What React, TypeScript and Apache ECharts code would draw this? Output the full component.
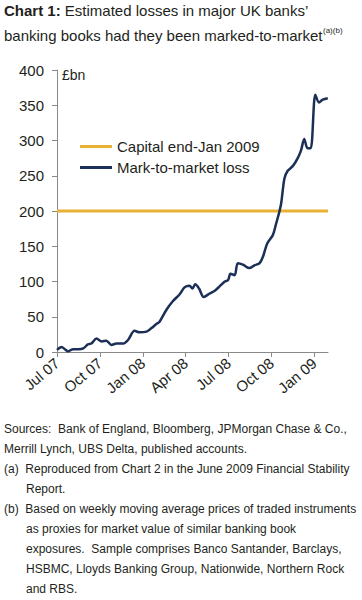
import React, { useEffect, useRef } from "react";
import * as echarts from "echarts";

// ---- Data ----
const dates = [
  "2007-07-01", "2007-07-11", "2007-07-18", "2007-07-25", "2007-08-05", "2007-08-16",
  "2007-08-27", "2007-09-06", "2007-09-13", "2007-09-24", "2007-10-05", "2007-10-15",
  "2007-10-26", "2007-11-06", "2007-11-20", "2007-11-30", "2007-12-14", "2007-12-25",
  "2008-01-09", "2008-01-20", "2008-01-31", "2008-02-06", "2008-02-20", "2008-03-04",
  "2008-03-19", "2008-03-30", "2008-04-09", "2008-04-15", "2008-04-21", "2008-04-29",
  "2008-05-09", "2008-05-22", "2008-06-02", "2008-06-12", "2008-06-23", "2008-06-30",
  "2008-07-05", "2008-07-14", "2008-07-21", "2008-08-01", "2008-08-15", "2008-08-26",
  "2008-09-06", "2008-09-13", "2008-09-22", "2008-10-04", "2008-10-11", "2008-10-18",
  "2008-10-22", "2008-10-29", "2008-11-05", "2008-11-16", "2008-11-26", "2008-12-03",
  "2008-12-10", "2008-12-17", "2008-12-24", "2009-01-03", "2009-01-11", "2009-01-19",
  "2009-01-30",
];
const markToMarketLoss = [
  3, 7, 4, 1, 4, 4,
  5, 11, 12, 19, 15, 16,
  10, 12, 12, 17, 30, 28,
  29, 34, 40, 43, 60, 72,
  82, 92, 94, 90, 96, 90,
  78, 83, 87, 93, 100, 102,
  111, 109, 126, 124, 119, 123,
  126, 135, 154, 166, 182, 199,
  211, 246, 257, 264, 275, 286,
  302, 289, 289, 365, 354, 358,
  360,
];
const capitalEndJan2009 = 200;
const xTickLabels = ["Jul 07", "Oct 07", "Jan 08", "Apr 08", "Jul 08", "Oct 08", "Jan 09"];
const yTicks = [0, 50, 100, 150, 200, 250, 300, 350, 400];
const footnotes = [
  { x: 4, text: "Sources:  Bank of England, Bloomberg, JPMorgan Chase & Co.," },
  { x: 4, text: "Merrill Lynch, UBS Delta, published accounts." },
  { x: 4, text: "(a)  Reproduced from Chart 2 in the June 2009 Financial Stability" },
  { x: 26, text: "Report." },
  { x: 4, text: "(b)  Based on weekly moving average prices of traded instruments" },
  { x: 26, text: "as proxies for market value of similar banking book" },
  { x: 26, text: "exposures.  Sample comprises Banco Santander, Barclays," },
  { x: 26, text: "HSBMC, Lloyds Banking Group, Nationwide, Northern Rock" },
  { x: 26, text: "and RBS." },
];

const X_MAX = 18.95; // months after Jul 07 where the axis ends

function monthOffset(d: string): number {
  const [y, m, day] = d.split("-").map(Number);
  const dim = new Date(y, m, 0).getDate();
  return (y - 2007) * 12 + (m - 7) + (day - 1) / dim;
}

const FONT = "'Liberation Sans', Arial, Helvetica, sans-serif";
const TEXT = "#231f20";
const NAVY = "#1b2f57";
const GOLD = "#e9b134";

export default function App() {
  const ref = useRef<HTMLDivElement>(null);
  useEffect(() => {
    if (!ref.current) return;
    const chart = echarts.init(ref.current, undefined, { renderer: "svg" });
    const lossData = dates.map((d, i) => [monthOffset(d), markToMarketLoss[i]]);
    const capData = [
      [0, capitalEndJan2009],
      [X_MAX, capitalEndJan2009],
    ];
    const footY0 = 430;
    const footStep = 20;
    chart.setOption({
      animation: false,
      textStyle: { fontFamily: FONT, color: TEXT },
      grid: { left: 57, right: 362 - 328, top: 70, bottom: 600 - 352, containLabel: false },
      legend: {
        orient: "vertical",
        left: 75,
        top: 134,
        icon: "rect",
        itemWidth: 32,
        itemHeight: 3,
        itemGap: 6,
        textStyle: { fontSize: 15, color: TEXT, fontFamily: FONT },
        data: ["Capital end-Jan 2009", "Mark-to-market loss"],
      },
      xAxis: {
        type: "value",
        min: 0,
        max: X_MAX,
        interval: 3,
        splitLine: { show: false },
        axisLine: { show: true, lineStyle: { color: "#8a8a8a", width: 1 } },
        axisTick: {
          show: true,
          length: 5,
          lineStyle: { color: "#8a8a8a" },
          customValues: [0, 3, 6, 9, 12, 15, 18],
        },
        axisLabel: {
          rotate: 40,
          margin: 9,
          fontSize: 15,
          color: TEXT,
          fontFamily: FONT,
          customValues: [0, 3, 6, 9, 12, 15, 18],
          formatter: (v: number) => xTickLabels[Math.round(v / 3)] ?? "",
        },
      },
      yAxis: {
        type: "value",
        min: 0,
        max: 400,
        interval: 50,
        splitLine: { show: false },
        axisLine: { show: true, lineStyle: { color: "#8a8a8a", width: 1 } },
        axisTick: { show: true, length: 5, lineStyle: { color: "#8a8a8a" } },
        axisLabel: {
          fontSize: 15,
          color: TEXT,
          margin: 13,
          fontFamily: FONT,
          formatter: (v: number) => (yTicks.includes(v) ? String(v) : ""),
        },
      },
      series: [
        {
          name: "Capital end-Jan 2009",
          type: "line",
          data: capData,
          symbol: "none",
          lineStyle: { color: GOLD, width: 3 },
          itemStyle: { color: GOLD },
        },
        {
          name: "Mark-to-market loss",
          type: "line",
          data: lossData,
          symbol: "none",
          smooth: 0.3,
          lineStyle: { color: NAVY, width: 2.5 },
          itemStyle: { color: NAVY },
        },
      ],
      graphic: [
        {
          type: "text",
          left: 4,
          top: 3,
          style: {
            text: "{b|Chart 1:} Estimated losses in major UK banks\u2019",
            fontSize: 15,
            fontFamily: FONT,
            fill: TEXT,
            rich: { b: { fontWeight: "bold", fontSize: 15, fontFamily: FONT, fill: TEXT } },
          },
        },
        {
          type: "text",
          left: 4,
          top: 28,
          style: {
            text: "banking books had they been marked-to-market",
            fontSize: 15,
            fontFamily: FONT,
            fill: TEXT,
          },
        },
        {
          type: "text",
          left: 323,
          top: 26,
          style: { text: "(a)(b)", fontSize: 8, fontFamily: FONT, fill: TEXT },
        },
        {
          type: "text",
          left: 62,
          top: 68,
          style: { text: "\u00a3bn", fontSize: 14, fontFamily: FONT, fill: TEXT },
        },
        ...footnotes.map((f, i) => ({
          type: "text",
          left: f.x,
          top: footY0 + i * footStep - 7,
          style: { text: f.text, fontSize: 12, fontFamily: FONT, fill: TEXT },
        })),
      ],
    });
    return () => chart.dispose();
  }, []);
  return (
    <div
      ref={ref}
      style={{ position: "absolute", left: 0, top: 0, width: 362, height: 600, background: "#fff" }}
    />
  );
}
